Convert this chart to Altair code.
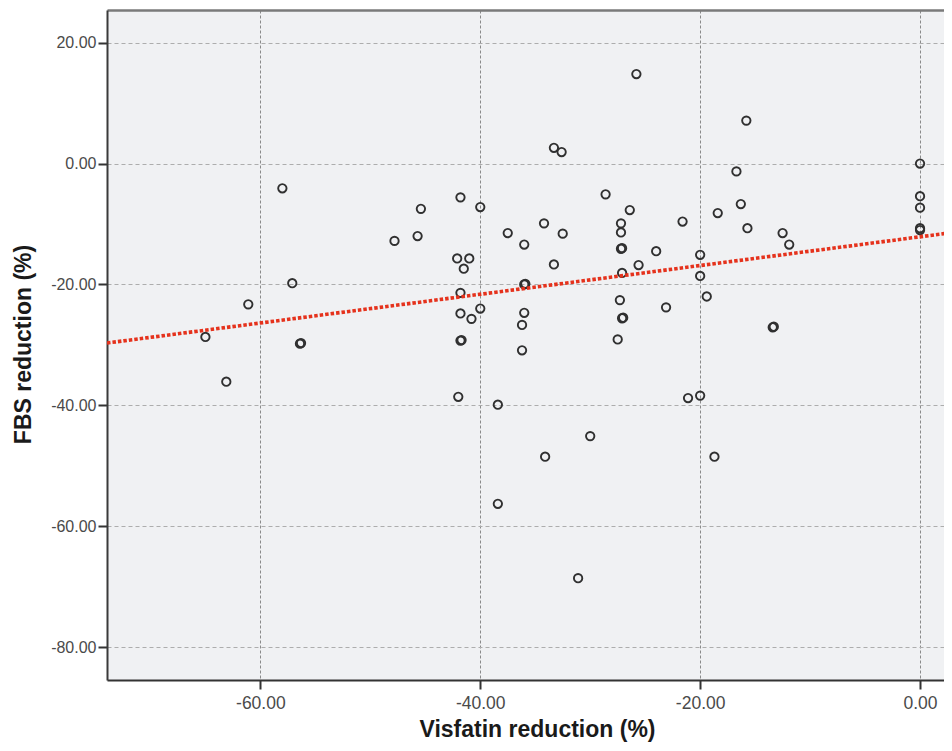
import altair as alt
import pandas as pd

# Visfatin reduction (%) for each subject
visfatin = [
    -58.0, -25.8, -33.3, -32.6, -41.8, -40.0, -45.4, -47.8, -45.7, -28.6,
    -26.4, -27.2, -27.2, -27.2, -27.1, -37.5, -36.0, -34.2, -32.5, -33.3,
    -15.8, -16.7, -16.3, -15.7, -18.4, -21.6, -24.0, -20.0, -12.5, -11.9,
    0.0, 0.0, 0.0, 0.0, 0.0, -65.0, -63.1, -61.1, -57.1, -56.4,
    -56.3, -42.1, -41.0, -41.5, -36.0, -35.9, -41.8, -40.0, -41.8, -40.8,
    -36.0, -36.2, -36.2, -41.8, -41.7, -27.1, -25.6, -27.3, -27.1, -27.0,
    -27.5, -42.0, -38.4, -30.0, -34.1, -38.4, -20.0, -19.4, -23.1, -13.4,
    -13.3, -21.1, -20.0, -18.7, -31.1,
]
# FBS reduction (%) for each subject
fbs = [
    -4.1, 14.8, 2.6, 1.9, -5.6, -7.2, -7.5, -12.8, -12.0, -5.1,
    -7.7, -9.9, -11.4, -14.1, -14.0, -11.5, -13.4, -9.9, -11.6, -16.7,
    7.1, -1.3, -6.7, -10.7, -8.2, -9.6, -14.5, -15.1, -11.5, -13.4,
    0.0, -5.4, -7.3, -10.7, -11.0, -28.7, -36.1, -23.3, -19.8, -29.8,
    -29.7, -15.7, -15.7, -17.4, -20.0, -19.9, -21.4, -24.0, -24.8, -25.7,
    -24.7, -26.7, -30.9, -29.3, -29.2, -18.1, -16.8, -22.6, -25.6, -25.5,
    -29.1, -38.6, -39.9, -45.1, -48.5, -56.3, -18.6, -22.0, -23.8, -27.1,
    -27.0, -38.8, -38.4, -48.5, -68.6,
]

# Linear fit line (at both plot edges)
fit_x = [-73.95, 2.2]
fit_y = [-29.7, -11.6]

x_ticks = [-60, -40, -20, 0]
y_ticks = [-80, -60, -40, -20, 0, 20]

pts = pd.DataFrame({"visfatin": visfatin, "fbs": fbs})
fit = pd.DataFrame({"visfatin": fit_x, "fbs": fit_y})

label_expr = "replace(format(datum.value, '.2f'), '\u2212', '-')"

x_scale = alt.Scale(domain=[-73.95, 2.18], nice=False, zero=False)
y_scale = alt.Scale(domain=[-85.45, 25.4], nice=False, zero=False)

x_axis = alt.Axis(
    values=x_ticks, labelExpr=label_expr, title="Visfatin reduction (%)",
    orient="bottom", grid=True, gridColor="#8a8a8a", gridDash=[3, 2], gridWidth=1,
    domainColor="#333333", domainWidth=2, tickColor="#333333", tickWidth=2, tickSize=9,
    labelFont="Liberation Sans", labelFontSize=17.5, labelColor="#4a4a4a", labelPadding=5,
    titleFont="Liberation Sans", titleFontSize=23, titleFontWeight="bold", titleColor="#1a1a1a",
    titleX=430, titleY=56, titleAlign="center", titleBaseline="alphabetic",
)
x_top_axis = alt.Axis(
    orient="top", labels=False, ticks=False, grid=False, title=None,
    domain=True, domainColor="#7a7a7a", domainWidth=2.5,
)
y_axis = alt.Axis(
    values=y_ticks, labelExpr=label_expr, title="FBS reduction (%)",
    orient="left", grid=True, gridColor="#adadad", gridDash=[4, 3], gridWidth=1,
    domainColor="#3a3a3a", domainWidth=2, tickColor="#333333", tickWidth=2, tickSize=9,
    labelFont="Liberation Sans", labelFontSize=16, labelColor="#4a4a4a", labelPadding=2,
    titleFont="Liberation Sans", titleFontSize=23, titleFontWeight="bold", titleColor="#1a1a1a",
    titleX=-84, titleY=334, titleAngle=270, titleAlign="center", titleBaseline="middle",
)

Y = alt.Y("fbs:Q", scale=y_scale, axis=y_axis)

points = alt.Chart(pts).mark_point(
    shape="circle", filled=False, size=70, strokeWidth=1.9, color="#303030", opacity=1
).encode(x=alt.X("visfatin:Q", scale=x_scale, axis=x_axis), y=Y)

line = alt.Chart(fit).mark_line(
    color="#e5321c", strokeWidth=3.6, strokeDash=[3.5, 2], strokeCap="butt", clip=True
).encode(x=alt.X("visfatin:Q", scale=x_scale, axis=x_top_axis), y=Y)

chart = alt.layer(points, line).resolve_axis(x="independent").properties(
    width=837, height=670,
    autosize=alt.AutoSizeParams(type="none"),
    padding={"left": 99, "top": 2, "right": 0, "bottom": 63},
    background="white",
).configure_view(
    fill="#f0f1f3", stroke="#f0f1f3", strokeWidth=0
)

chart.save("out.html", embed_options={"renderer": "svg", "actions": False})
